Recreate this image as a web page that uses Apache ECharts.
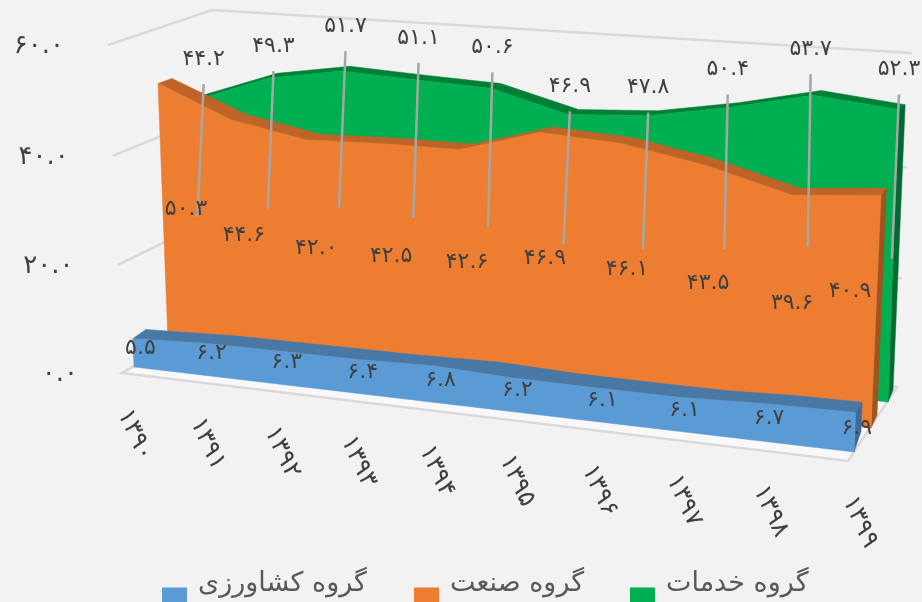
<!DOCTYPE html>
<html>
<head>
<meta charset="utf-8">
<style>html,body{margin:0;padding:0;background:#F2F2F2;overflow:hidden}#c{width:922px;height:602px}</style>
<script src="https://cdn.jsdelivr.net/npm/echarts@6/dist/echarts.min.js"></script>
</head>
<body>
<div id="c"></div>
<script>
// ---- data ----
const categories = ['۱۳۹۰','۱۳۹۱','۱۳۹۲','۱۳۹۳','۱۳۹۴','۱۳۹۵','۱۳۹۶','۱۳۹۷','۱۳۹۸','۱۳۹۹'];
const agriculture = [5.5,6.2,6.3,6.4,6.8,6.2,6.1,6.1,6.7,6.9];
const industry = [50.3,44.6,42.0,42.5,42.6,46.9,46.1,43.5,39.6,40.9];
const services = [44.2,49.3,51.7,51.1,50.6,46.9,47.8,50.4,53.7,52.3];
const axisTicks = [0,20,40,60];
const agricultureName = 'گروه کشاورزی';
const industryName = 'گروه صنعت';
const servicesName = 'گروه خدمات';

// ---- 3D look: each plane is [v=0 left, v=0 right, v=60 right, v=60 left] on screen ----
const planes = {
  sideWall:  [[122,373],[223,316],[212,10],[108,45]],
  backWall:  [[223,316],[897,387],[912,53],[212,10]],
  floor:     [[122,373],[848,461],[897,387],[223,316]],
  blueF:     [[134,367],[854,452],[869,96],[120,48]],
  blueB:     [[147,358],[861,431.5],[870,170],[133,36.5]],
  orangeF:   [[168,342],[871,428],[886,82],[156,32]],
  orangeB:   [[182,336],[877,415],[891,78],[170,27]],
  greenF:    [[206,322],[888,402],[899.5,65],[196,17]],
  greenB:    [[215,316],[893,390],[907,61],[203,12]],
  catLabels: [[135,435],[860,522],[875,166],[121,116]]
};
const colors = {
  blue:   {front:'#5B9BD5', top:'#4A78A5', side:'#3F6A97'},
  orange: {front:'#ED7D31', top:'#BE6428', side:'#A05320'},
  green:  {front:'#00B050', top:'#008037', side:'#006B30'}
};
const textColor = '#404040', fontFamily = '"DejaVu Sans"';
// label nudges, in pixels, from the projected anchor
const blueNudge   = [[7,-5],[6,-6],[7,-5],[7,-4],[7,-4],[4,-5],[7,-4],[5,-4],[3,-4],[2,-4]];
const orangeNudge = [[23,-5],[9,-1],[8,-3],[8,-1],[7,-3],[6,-3],[7,-3],[5,-5],[4,-4],[-26,-22]];
const greenNudge  = [[5,-40],[5,-32],[5,-45],[4,-42],[2,-41],[2,-28],[1,-28],[-1,-38],[-2,-46],[1,-40]];
const leaderNudge = [[-5,5],[-4,3],[-4,1],[-3,3],[-3,3],[-4,3],[-3,3],[-2,2],[-1,1],[-1,1]];

function homography(q){
  const [[x0,y0],[x1,y1],[x2,y2],[x3,y3]] = q;
  const dx1=x1-x2, dx2=x3-x2, sx=x0-x1+x2-x3, dy1=y1-y2, dy2=y3-y2, sy=y0-y1+y2-y3;
  const det=dx1*dy2-dx2*dy1, g=(sx*dy2-dx2*sy)/det, h=(dx1*sy-sx*dy1)/det;
  const a=x1-x0+g*x1, b=x3-x0+h*x3, d=y1-y0+g*y1, e=y3-y0+h*y3;
  return (u,v)=>{const w=g*u+h*v+1; return [(a*u+b*v+x0)/w,(d*u+e*v+y0)/w];};
}
const H = {}; Object.keys(planes).forEach(k=>H[k]=homography(planes[k]));

// grid value -> library pixel -> plane position
function projector(api){
  const o=api.coord([0,0]), m=api.coord([9,60]);
  return (plane,i,val)=>{
    const c=api.coord([i,val]);
    return H[plane]((c[0]-o[0])/(m[0]-o[0]),(c[1]-o[1])/(m[1]-o[1]));
  };
}
const fa = s => String(s).replace(/[0-9]/g,d=>'۰۱۲۳۴۵۶۷۸۹'[+d]);
const fmt = v => fa(v.toFixed(1));

function areaSeries(name, values, front, back, col){
  return {
    name, type:'custom', coordinateSystem:'cartesian2d', silent:true, clip:false,
    itemStyle:{color:col.front},
    data: values.map((v,i)=>[i,v]),
    renderItem(params, api){
      if(params.dataIndex!==0) return null;
      const P=projector(api), n=values.length-1;
      const fTop=values.map((v,i)=>P(front,i,v)), bTop=values.map((v,i)=>P(back,i,v));
      const fill=(pts,c)=>({type:'polygon',shape:{points:pts},style:{fill:c,stroke:c,lineWidth:0.5}});
      return {type:'group',children:[
        fill([P(front,n,0),P(back,n,0),bTop[n],fTop[n]],col.side),
        fill(fTop.concat(bTop.slice().reverse()),col.top),
        fill([P(front,0,0)].concat(fTop,[P(front,n,0)]),col.front)
      ]};
    }
  };
}

const frameSeries = {
  type:'custom', coordinateSystem:'cartesian2d', silent:true, clip:false,
  data: axisTicks.map(t=>[0,t]),
  renderItem(params, api){
    const P=projector(api), t=api.value(1), kids=[];
    const grey='#D9D9D9';
    if(params.dataIndex===0){
      kids.push({type:'polygon',shape:{points:[P('floor',0,0),P('floor',9,0),P('floor',9,60),P('floor',0,60)]},
        style:{fill:'#F8F8F8',stroke:grey,lineWidth:2.5,lineJoin:'miter'}});
    }
    kids.push({type:'polyline',shape:{points:[P('sideWall',0,t),P('sideWall',9,t),P('backWall',9,t)]},
      style:{fill:'none',stroke:grey,lineWidth:2.5}});
    const a=P('sideWall',0,t);
    kids.push({type:'text',x:a[0]-44,y:a[1]+1,style:{text:fmt(t),align:'right',verticalAlign:'middle',
      fontFamily,fontSize:26,fill:textColor}});
    return {type:'group',children:kids};
  }
};

const overlaySeries = {
  type:'custom', coordinateSystem:'cartesian2d', silent:true, clip:false,
  data: categories.map((c,i)=>[i,agriculture[i],industry[i],services[i]]),
  renderItem(params, api){
    const P=projector(api), i=api.value(0), a=api.value(1), b=api.value(2), c=api.value(3), kids=[];
    const label=(txt,x,y,size)=>({type:'text',x,y,style:{text:txt,align:'center',verticalAlign:'middle',
      fontFamily,fontSize:size,fill:textColor}});
    const g=P('greenF',i,c), gx=g[0]+greenNudge[i][0], gy=g[1]+greenNudge[i][1];
    const gm=P('greenF',i,c/2);
    kids.push({type:'line',shape:{x1:gx,y1:gy+25,x2:gm[0]+leaderNudge[i][0],y2:gm[1]+leaderNudge[i][1]},
      style:{stroke:'#A6A6A6',lineWidth:2.5}});
    kids.push(label(fmt(c),gx,gy,22));
    const o=P('orangeF',i,b/2); kids.push(label(fmt(b),o[0]+orangeNudge[i][0],o[1]+orangeNudge[i][1],22));
    const e=P('blueF',i,a/2); kids.push(label(fmt(a),e[0]+blueNudge[i][0],e[1]+blueNudge[i][1],22));
    const k=P('catLabels',i,0);
    kids.push({type:'text',x:k[0],y:k[1],rotation:-65*Math.PI/180,style:{text:categories[i],align:'center',
      verticalAlign:'middle',fontFamily,fontSize:25,fill:textColor}});
    return {type:'group',children:kids};
  }
};

// icon: a 25px square low in a taller box, so the text sits above its centre as in the reference
const legendIcon='path://M0,0L0.01,0L0.01,0.01ZM31,0L31.01,0L31.01,0.01ZM0,33L25,33L25,58L0,58Z';
const legendOf=(name,left)=>({
  data:[name], left, top:554.5, icon:legendIcon, itemWidth:31, itemHeight:58, itemGap:0, padding:0, selectedMode:false,
  textStyle:{fontFamily,fontSize:27,color:'#595959'}
});

const chart = echarts.init(document.getElementById('c'),null,{renderer:'canvas',width:922,height:602});
chart.setOption({
  backgroundColor:'#F2F2F2', animation:false,
  grid:{left:0,top:0,width:900,height:600},
  xAxis:{type:'value',min:0,max:9,show:false},
  yAxis:{type:'value',min:0,max:60,interval:20,show:false},
  legend:[legendOf(agricultureName,162),legendOf(industryName,414),legendOf(servicesName,630)],
  series:[
    frameSeries,
    areaSeries(servicesName,services,'greenF','greenB',colors.green),
    areaSeries(industryName,industry,'orangeF','orangeB',colors.orange),
    areaSeries(agricultureName,agriculture,'blueF','blueB',colors.blue),
    overlaySeries
  ]
});
</script>
</body>
</html>
